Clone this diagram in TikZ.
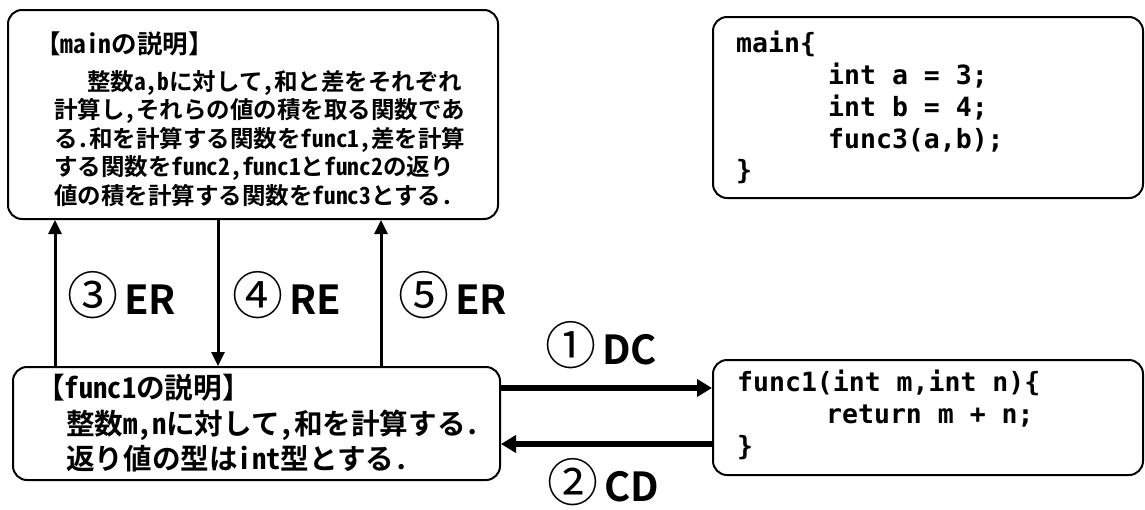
\documentclass[tikz,border=0pt]{standalone}
\usepackage{fontspec}
\usetikzlibrary{arrows.meta,calc}
\newfontfamily\jpb{Noto Sans CJK JP}[BoldFont={Noto Sans CJK JP Bold},RawFeature=+hwid]
\newfontfamily\lblf{Noto Sans CJK JP}[BoldFont={Noto Sans CJK JP Bold}]
\newfontfamily\circf{Noto Sans CJK JP}
\newfontfamily\codef{DejaVu Sans Mono}
\newcommand\steplabel[2]{{\circf\fontsize{51pt}{51pt}\selectfont #1}\hspace{6pt}{\lblf\bfseries\fontsize{40pt}{40pt}\selectfont #2}}
\begin{document}
\begin{tikzpicture}[x=1pt,y=-1pt,
  box/.style={draw,line width=2pt,rounded corners=14pt,inner sep=0pt},
  desctext/.style={anchor=base west,inner sep=0pt,font=\jpb\bfseries\fontsize{23.5pt}{28pt}\selectfont},
  fdesctext/.style={anchor=base west,inner sep=0pt,font=\jpb\bfseries\fontsize{28.6pt}{34pt}\selectfont},
  codetext/.style={anchor=base west,inner sep=0pt,font=\codef\bfseries\fontsize{26.5pt}{32pt}\selectfont},
  lbl/.style={anchor=base west,inner sep=0pt},
  varrow/.style={line width=3pt,-{Triangle[length=14pt,width=13pt]}},
  harrow/.style={line width=5.5pt,-{Triangle[length=15pt,width=17pt]}}]
\useasboundingbox (0,0) rectangle (1145,509);
\fill[white] (0,0) rectangle (1145,509);
% boxes
\node[box,minimum width=490pt,minimum height=209pt] (mainDesc) at (253,114.5) {};
\node[box,minimum width=430pt,minimum height=181pt] (mainCode) at (928,107.5) {};
\node[box,minimum width=487pt,minimum height=113pt] (funcDesc) at (256.5,423.5) {};
\node[box,minimum width=430pt,minimum height=115pt] (funcCode) at (928,417.5) {};
% main description
\node[desctext,font=\jpb\bfseries\fontsize{25.5pt}{30pt}\selectfont] (md0) at (35,53) {【mainの説明】};
\node[desctext] (md1) at (87,90) {整数a,bに対して,和と差をそれぞれ};
\node[desctext] (md2) at (54,118.5) {計算し,それらの値の積を取る関数であ};
\node[desctext] (md3) at (54,147) {る.和を計算する関数をfunc1,差を計算};
\node[desctext] (md4) at (54,175.5) {する関数をfunc2,func1とfunc2の返り};
\node[desctext] (md5) at (54,204) {値の積を計算する関数をfunc3とする.};
% main code
\node[codetext] (mc1) at (736,52) {main\{};
\node[codetext] (mc2) at (828,84) {int a = 3;};
\node[codetext] (mc3) at (828,116) {int b = 4;};
\node[codetext] (mc4) at (828,148) {func3(a,b);};
\node[codetext] (mc5) at (736,179) {\}};
% func1 description
\node[fdesctext] (fd0) at (36,398) {【func1の説明】};
\node[fdesctext] (fd1) at (66,434) {整数m,nに対して,和を計算する.};
\node[fdesctext] (fd2) at (66,469) {返り値の型はint型とする.};
% func1 code
\node[codetext] (fc1) at (737,391) {func1(int m,int n)\{};
\node[codetext] (fc2) at (826,423) {return m + n;};
\node[codetext] (fc3) at (737,455) {\}};
% connectors
\coordinate (xa) at (55,0);
\coordinate (xb) at (218,0);
\coordinate (xc) at (381,0);
\coordinate (ya) at (0,388);
\coordinate (yb) at (0,444);
\draw[varrow] (funcDesc.north -| xa) -- (mainDesc.south -| xa);
\draw[varrow] (mainDesc.south -| xb) -- (funcDesc.north -| xb);
\draw[varrow] (funcDesc.north -| xc) -- (mainDesc.south -| xc);
\draw[harrow] (funcDesc.east |- ya) -- (funcCode.west |- ya);
\draw[harrow] (funcCode.west |- yb) -- (funcDesc.east |- yb);
% labels
\node[lbl] (l3) at (67,314) {\steplabel{③}{ER}};
\node[lbl] (l4) at (232,314) {\steplabel{④}{RE}};
\node[lbl] (l5) at (398,314) {\steplabel{⑤}{ER}};
\node[lbl] (l1) at (545,364) {\steplabel{①}{DC}};
\node[lbl] (l2) at (547,501) {\steplabel{②}{CD}};
\end{tikzpicture}
\end{document}
